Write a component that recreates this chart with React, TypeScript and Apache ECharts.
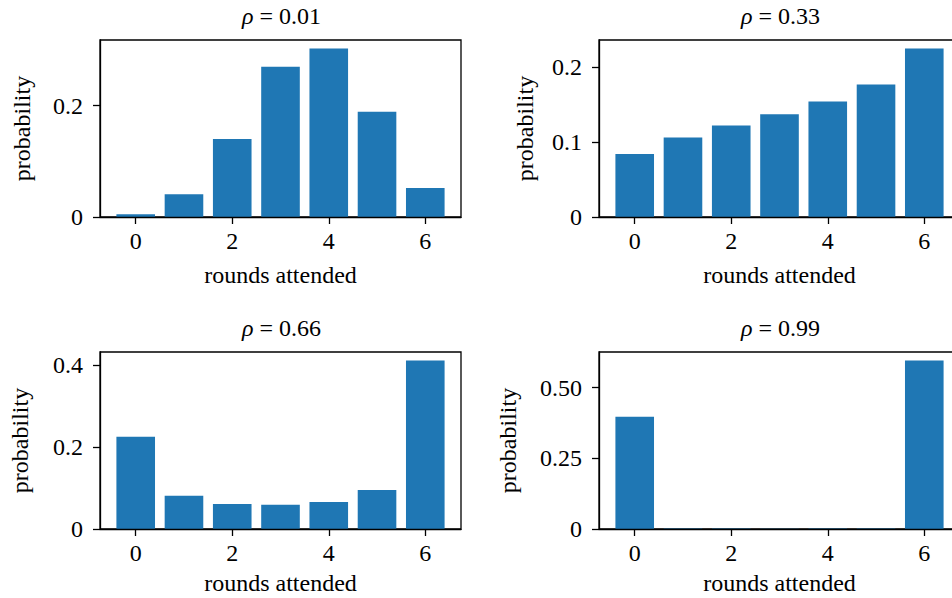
import React, { useEffect, useRef } from "react";
import * as echarts from "echarts";

// ---- data ----
const roundsAttended = [0, 1, 2, 3, 4, 5, 6];
const rhoLabels = ["0.01", "0.33", "0.66", "0.99"];
const probRho001 = [0.005, 0.041, 0.140, 0.270, 0.303, 0.189, 0.052];
const probRho033 = [0.084, 0.106, 0.122, 0.137, 0.154, 0.177, 0.225];
const probRho066 = [0.225, 0.081, 0.061, 0.059, 0.066, 0.095, 0.411];
const probRho099 = [0.397, 0.002, 0.002, 0.001, 0.002, 0.002, 0.596];
const xTickValues = [0, 2, 4, 6];
const yTickValues001 = [0, 0.2];
const yTickLabels001 = ["0", "0.2"];
const yTickValues033 = [0, 0.1, 0.2];
const yTickLabels033 = ["0", "0.1", "0.2"];
const yTickValues066 = [0, 0.2, 0.4];
const yTickLabels066 = ["0", "0.2", "0.4"];
const yTickValues099 = [0, 0.25, 0.5];
const yTickLabels099 = ["0", "0.25", "0.50"];

const FONT = "'Liberation Serif', 'Times New Roman', serif";
const FS = 24;
const BLUE = "#1f77b4";

export default function App() {
  const ref = useRef<HTMLDivElement>(null);
  useEffect(() => {
    if (!ref.current) return;
    const chart = echarts.init(ref.current, undefined, { renderer: "svg" });

    const panels = [
      { data: probRho001, ticks: yTickValues001, labels: yTickLabels001, left: 100, top: 40, nameGap: 66, xNameGap: 48 },
      { data: probRho033, ticks: yTickValues033, labels: yTickLabels033, left: 599, top: 40, nameGap: 62, xNameGap: 48 },
      { data: probRho066, ticks: yTickValues066, labels: yTickLabels066, left: 100, top: 352, nameGap: 68, xNameGap: 44 },
      { data: probRho099, ticks: yTickValues099, labels: yTickLabels099, left: 599, top: 352, nameGap: 79, xNameGap: 44 },
    ];
    const W = 361;
    const H = 177;

    const grid: any[] = [];
    const xAxis: any[] = [];
    const yAxis: any[] = [];
    const series: any[] = [];
    const title: any[] = [];

    panels.forEach((p, i) => {
      grid.push({
        left: p.left,
        top: p.top,
        width: W,
        height: H,
        show: true,
        borderColor: "#000",
        borderWidth: 1.3,
        backgroundColor: "transparent",
        containLabel: false,
        outerBoundsMode: "none",
      });
      const minX = -0.4 - 0.05 * 6.8;
      const maxX = 6.4 + 0.05 * 6.8;
      xAxis.push({
        type: "value",
        gridIndex: i,
        min: minX,
        max: maxX,
        z: 5,
        name: "rounds attended",
        nameLocation: "middle",
        nameGap: p.xNameGap,
        nameTextStyle: { fontFamily: FONT, fontSize: FS, lineHeight: 20, color: "#000" },
        axisLine: { show: true, onZero: false, lineStyle: { color: "#000", width: 1.3 } },
        axisTick: { show: true, inside: false, length: 7, customValues: xTickValues, lineStyle: { color: "#000", width: 1.3 } },
        axisLabel: {
          show: true,
          customValues: xTickValues,
          margin: 12,
          fontFamily: FONT,
          fontSize: FS,
          color: "#000",
          formatter: (v: number) => String(Math.round(v)),
        },
        splitLine: { show: false },
      });
      const maxY = Math.max(...p.data) * 1.05;
      yAxis.push({
        type: "value",
        gridIndex: i,
        min: 0,
        max: maxY,
        z: 5,
        name: "probability",
        nameLocation: "middle",
        nameGap: p.nameGap,
        nameRotate: 90,
        nameTextStyle: { fontFamily: FONT, fontSize: FS, color: "#000" },
        axisLine: { show: true, onZero: false, lineStyle: { color: "#000", width: 1.3 } },
        axisTick: { show: true, inside: false, length: 7, customValues: p.ticks, lineStyle: { color: "#000", width: 1.3 } },
        axisLabel: {
          show: true,
          customValues: p.ticks,
          margin: 17,
          fontFamily: FONT,
          fontSize: FS,
          color: "#000",
          formatter: (v: number) => {
            const idx = p.ticks.findIndex((t) => Math.abs(t - v) < 1e-9);
            return idx >= 0 ? p.labels[idx] : "";
          },
        },
        splitLine: { show: false },
      });
      series.push({
        type: "bar",
        xAxisIndex: i,
        yAxisIndex: i,
        barWidth: "80%",
        itemStyle: { color: BLUE },
        data: roundsAttended.map((r, k) => [r, p.data[k]]),
      });
      title.push({
        text: "{i|ρ} = " + rhoLabels[i],
        left: p.left + W / 2 - 4,
        top: p.top - 41,
        textAlign: "center",
        textStyle: {
          fontFamily: FONT,
          fontSize: FS,
          fontWeight: "normal",
          color: "#000",
          rich: {
            i: { fontFamily: FONT, fontSize: FS, fontStyle: "italic", color: "#000" },
          },
        },
      });
    });

    chart.setOption({
      animation: false,
      backgroundColor: "#fff",
      title,
      grid,
      xAxis,
      yAxis,
      series,
    });
    return () => chart.dispose();
  }, []);
  return (
    <div
      ref={ref}
      style={{ position: "absolute", left: 0, top: 0, width: 952, height: 598 }}
    />
  );
}
